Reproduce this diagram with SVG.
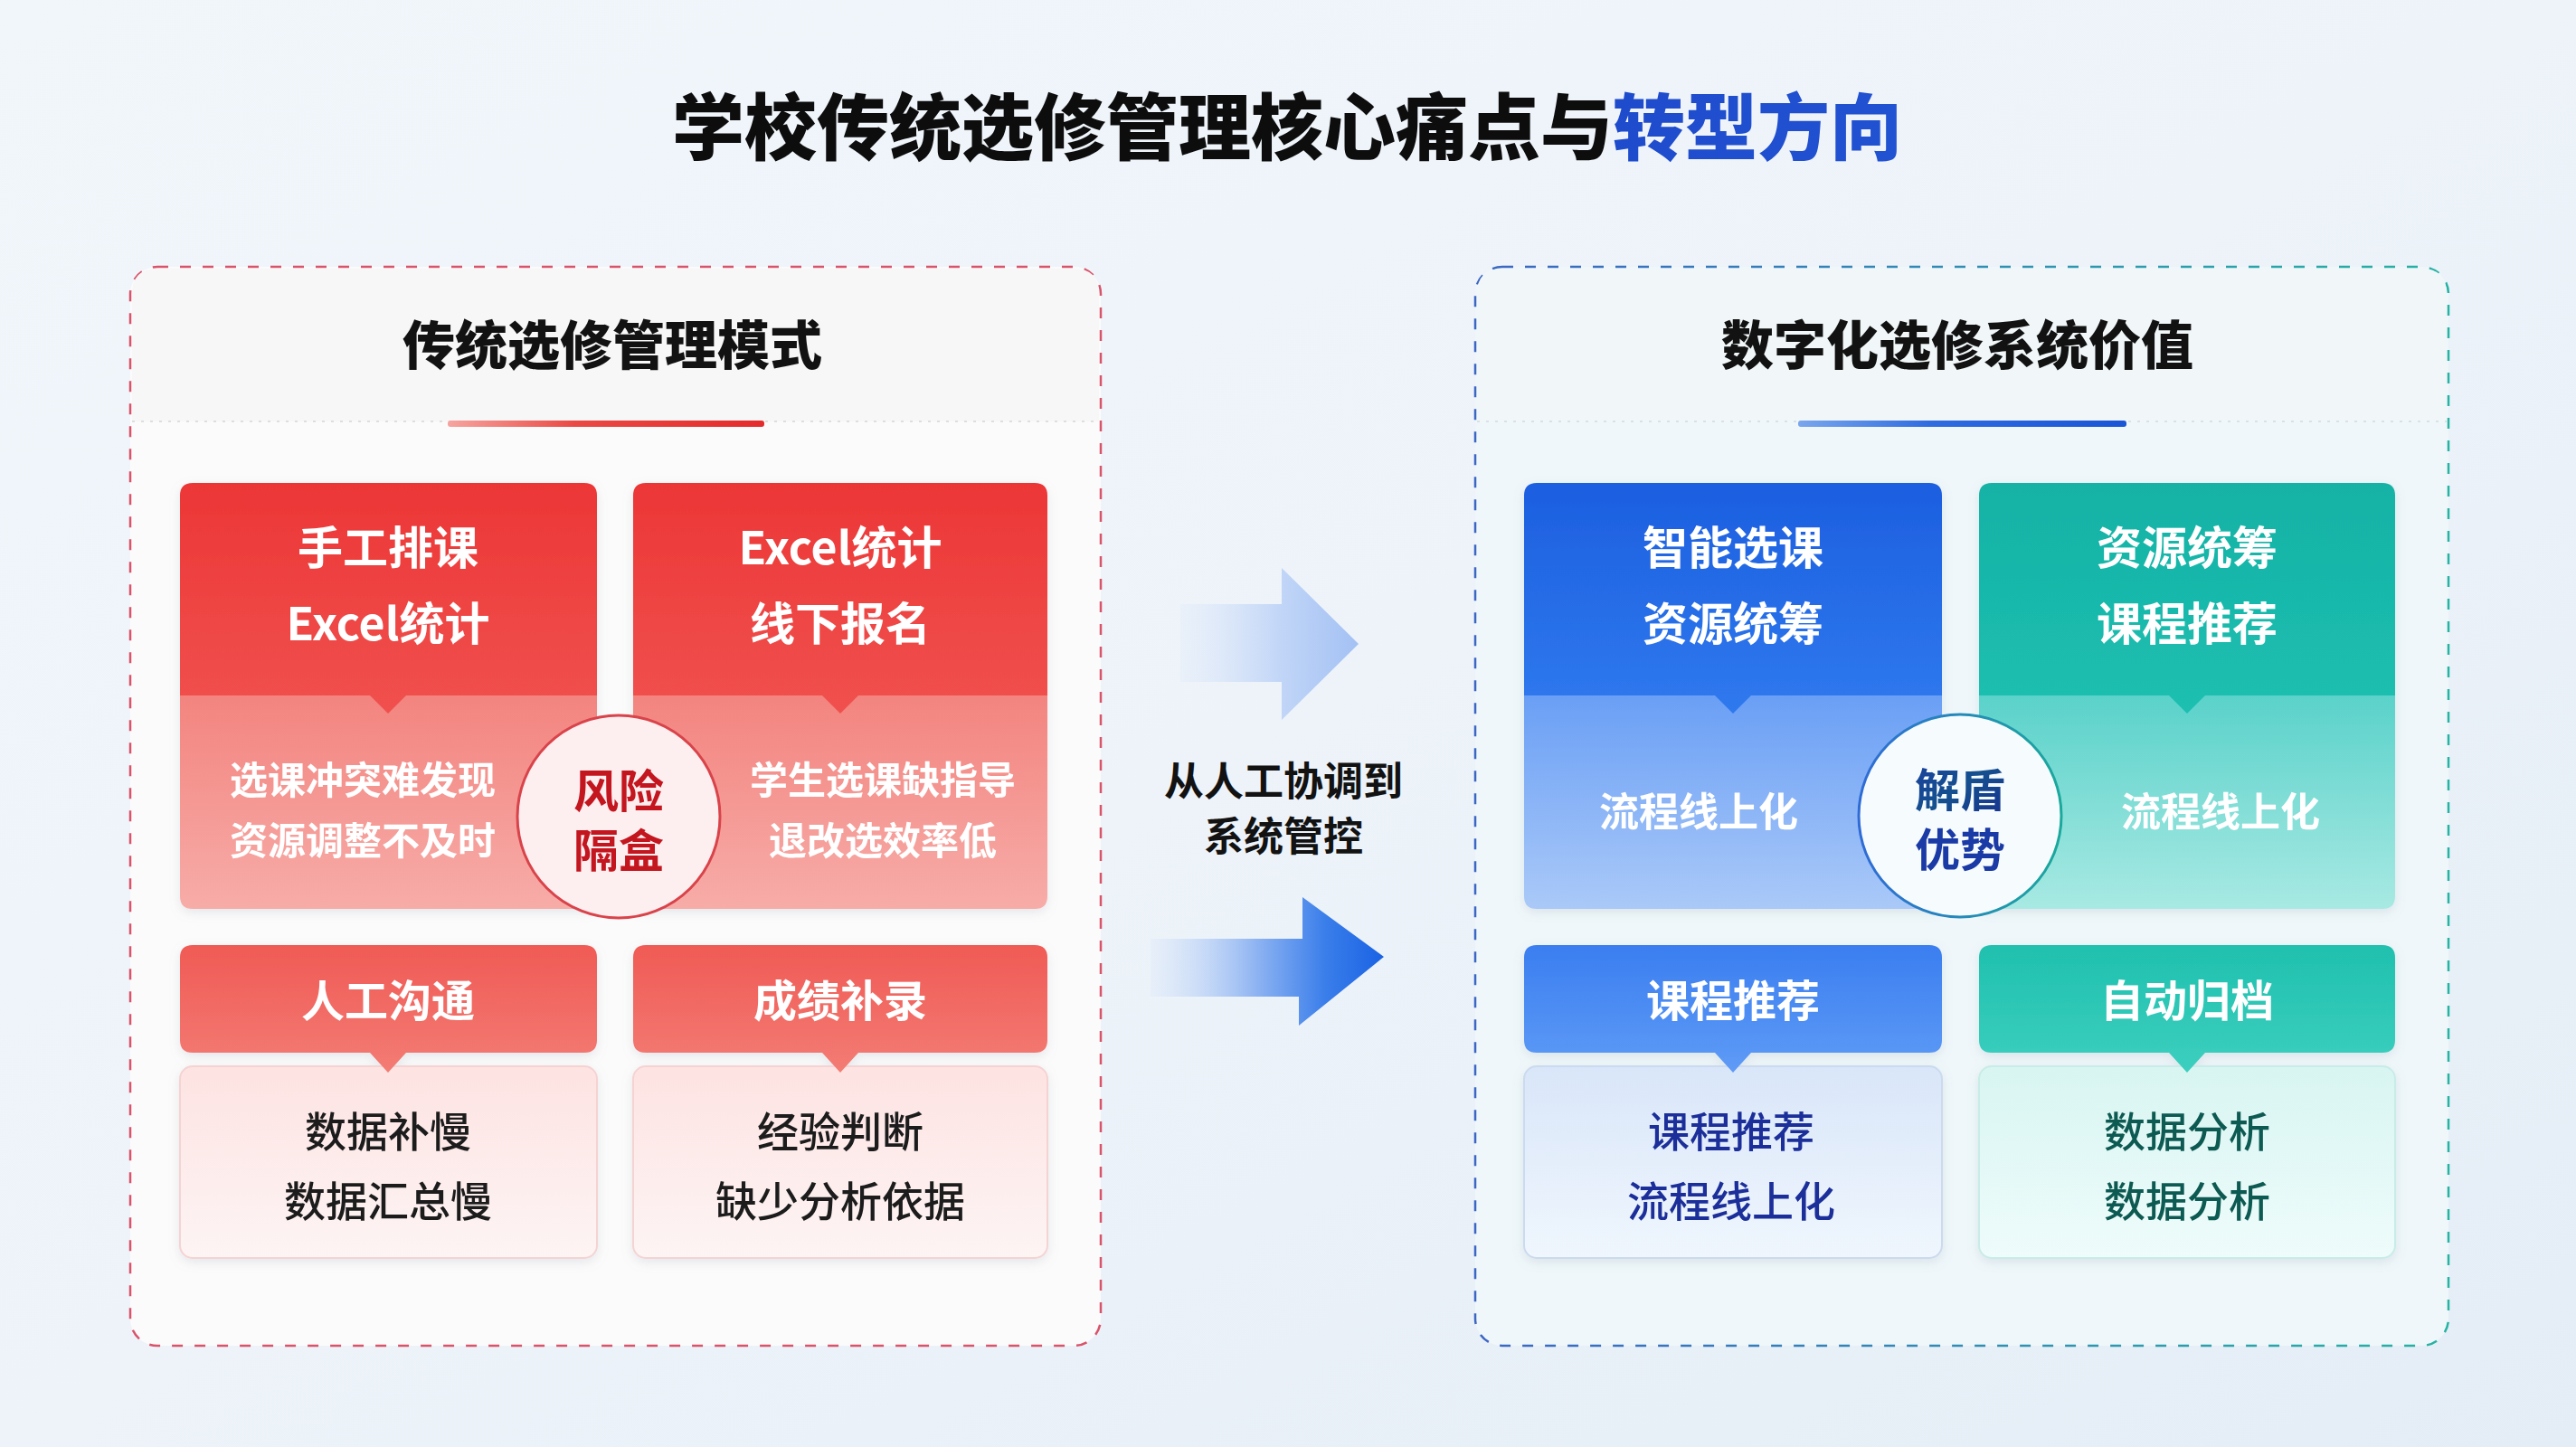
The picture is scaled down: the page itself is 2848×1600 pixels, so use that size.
<svg xmlns="http://www.w3.org/2000/svg" width="2848" height="1600" viewBox="0 0 2848 1600">
<defs>
<style>
.cjk{font-family:"Noto Sans CJK SC","Noto Sans",sans-serif;}
.b{font-weight:700;}
.k{font-weight:900;}
.m{font-weight:500;}
.wt{fill:#ffffff;}
</style>
<linearGradient id="bg" x1="0" y1="0" x2="1" y2="1">
<stop offset="0" stop-color="#f1f6fb"/><stop offset="0.5" stop-color="#edf3f9"/><stop offset="1" stop-color="#e4edf6"/>
</linearGradient>
<linearGradient id="titleBlue" x1="0" y1="0" x2="1" y2="0">
<stop offset="0" stop-color="#1636b8"/><stop offset="1" stop-color="#2152d2"/>
</linearGradient>
<linearGradient id="redHead" x1="0" y1="0" x2="0" y2="1">
<stop offset="0" stop-color="#ec3636"/><stop offset="1" stop-color="#f0514e"/>
</linearGradient>
<linearGradient id="redLow" x1="0" y1="0" x2="0" y2="1">
<stop offset="0" stop-color="#f3847f"/><stop offset="1" stop-color="#f7aca8"/>
</linearGradient>
<linearGradient id="redHead2" x1="0" y1="0" x2="0" y2="1">
<stop offset="0" stop-color="#f05a55"/><stop offset="1" stop-color="#f37c74"/>
</linearGradient>
<linearGradient id="redBox" x1="0" y1="0" x2="0" y2="1">
<stop offset="0" stop-color="#fde3e2"/><stop offset="1" stop-color="#fdf4f4"/>
</linearGradient>
<linearGradient id="blueHead" x1="0" y1="0" x2="0" y2="1">
<stop offset="0" stop-color="#1c5fe0"/><stop offset="1" stop-color="#2f79ee"/>
</linearGradient>
<linearGradient id="blueLow" x1="0" y1="0" x2="0" y2="1">
<stop offset="0" stop-color="#6a9ff5"/><stop offset="1" stop-color="#aac9f8"/>
</linearGradient>
<linearGradient id="blueHead2" x1="0" y1="0" x2="0" y2="1">
<stop offset="0" stop-color="#3a7ef0"/><stop offset="1" stop-color="#5f9bf6"/>
</linearGradient>
<linearGradient id="blueBox" x1="0" y1="0" x2="0" y2="1">
<stop offset="0" stop-color="#d9e6f9"/><stop offset="1" stop-color="#eff6fd"/>
</linearGradient>
<linearGradient id="tealHead" x1="0" y1="0" x2="0" y2="1">
<stop offset="0" stop-color="#13b2a6"/><stop offset="1" stop-color="#1ebfb0"/>
</linearGradient>
<linearGradient id="tealLow" x1="0" y1="0" x2="0" y2="1">
<stop offset="0" stop-color="#5ad2ca"/><stop offset="1" stop-color="#a8e9e3"/>
</linearGradient>
<linearGradient id="tealHead2" x1="0" y1="0" x2="0" y2="1">
<stop offset="0" stop-color="#20c0ae"/><stop offset="1" stop-color="#3ccfbf"/>
</linearGradient>
<linearGradient id="tealBox" x1="0" y1="0" x2="0" y2="1">
<stop offset="0" stop-color="#d8f5f2"/><stop offset="1" stop-color="#eefcfb"/>
</linearGradient>
<linearGradient id="redBar" x1="0" y1="0" x2="1" y2="0">
<stop offset="0" stop-color="#f6a4a0"/><stop offset="0.4" stop-color="#ea4a44"/><stop offset="1" stop-color="#e42b2b"/>
</linearGradient>
<linearGradient id="blueBar" x1="0" y1="0" x2="1" y2="0">
<stop offset="0" stop-color="#7aa6ec"/><stop offset="0.4" stop-color="#2f6ce0"/><stop offset="1" stop-color="#1a55d6"/>
</linearGradient>
<linearGradient id="rightStroke" x1="0" y1="0" x2="1" y2="0">
<stop offset="0" stop-color="#3b66c4"/><stop offset="1" stop-color="#25b3a3"/>
</linearGradient>
<linearGradient id="circBlue" x1="0" y1="0" x2="1" y2="0">
<stop offset="0" stop-color="#2f6bd6"/><stop offset="1" stop-color="#1aa99c"/>
</linearGradient>
<linearGradient id="circText" x1="0" y1="0" x2="1" y2="1">
<stop offset="0" stop-color="#1b3f9f"/><stop offset="0.5" stop-color="#15508f"/><stop offset="1" stop-color="#17328f"/>
</linearGradient>
<linearGradient id="arrowLight" x1="1305" y1="0" x2="1502" y2="0" gradientUnits="userSpaceOnUse">
<stop offset="0" stop-color="#dfe9fa" stop-opacity="0.3"/><stop offset="0.55" stop-color="#c2d6f7"/><stop offset="1" stop-color="#a3c1f4"/>
</linearGradient>
<linearGradient id="arrowDark" x1="1272" y1="0" x2="1530" y2="0" gradientUnits="userSpaceOnUse">
<stop offset="0" stop-color="#d9e6fa" stop-opacity="0.3"/><stop offset="0.45" stop-color="#8fb4f2"/><stop offset="0.75" stop-color="#3a7eea"/><stop offset="1" stop-color="#1a62e4"/>
</linearGradient>
<filter id="sh" x="-10%" y="-10%" width="120%" height="130%">
<feDropShadow dx="0" dy="4" stdDeviation="6" flood-color="#7a8aa0" flood-opacity="0.18"/>
</filter>
</defs>

<rect x="0" y="0" width="2848" height="1600" fill="url(#bg)"/>

<g id="title">
<text class="cjk k" x="1423" y="170" font-size="80" text-anchor="middle" fill="#0d0d0d">学校传统选修管理核心痛点与<tspan fill="url(#titleBlue)">转型方向</tspan></text>
</g>

<g id="panel-left">
<rect x="144" y="295" width="1073" height="1193" rx="30" fill="#fcfbfb" stroke="#d9536a" stroke-width="2.5" stroke-dasharray="12 13"/>
<path d="M146,466 V325 Q146,297 174,297 H1187 Q1215,297 1215,325 V466 Z" fill="#f7f7f8"/>
<line x1="146" y1="466" x2="1215" y2="466" stroke="#dedede" stroke-width="2" stroke-dasharray="3 7"/>
<text class="cjk k" x="677" y="403" font-size="58" text-anchor="middle" fill="#121212">传统选修管理模式</text>
<rect x="495" y="465" width="350" height="7" rx="3" fill="url(#redBar)"/>
</g>

<g id="panel-right">
<rect x="1631" y="295" width="1076" height="1193" rx="30" fill="#eff7fa" stroke="url(#rightStroke)" stroke-width="2.5" stroke-dasharray="12 13"/>
<path d="M1633,466 V325 Q1633,297 1661,297 H2677 Q2705,297 2705,325 V466 Z" fill="#f1f7f9"/>
<line x1="1633" y1="466" x2="2705" y2="466" stroke="#d8e2e6" stroke-width="2" stroke-dasharray="3 7"/>
<text class="cjk k" x="2164" y="403" font-size="58" text-anchor="middle" fill="#121212">数字化选修系统价值</text>
<rect x="1988" y="465" width="363" height="7" rx="3" fill="url(#blueBar)"/>
</g>

<g id="card-manual" filter="url(#sh)">
<path d="M199,769 H660 V991 Q660,1005 646,1005 H213 Q199,1005 199,991 Z" fill="url(#redLow)"/>
<path d="M199,769 V548 Q199,534 213,534 H646 Q660,534 660,548 V769 H449 L429,789 L409,769 Z" fill="url(#redHead)"/>
<text class="cjk b wt" x="429" y="624" font-size="50" text-anchor="middle">手工排课</text>
<text class="cjk b wt" x="429" y="708" font-size="50" text-anchor="middle">Excel统计</text>
<text class="cjk b wt" x="401" y="878" font-size="42" text-anchor="middle">选课冲突难发现</text>
<text class="cjk b wt" x="401" y="945" font-size="42" text-anchor="middle">资源调整不及时</text>
</g>
<g id="card-excel" filter="url(#sh)">
<path d="M700,769 H1158 V991 Q1158,1005 1144,1005 H714 Q700,1005 700,991 Z" fill="url(#redLow)"/>
<path d="M700,769 V548 Q700,534 714,534 H1144 Q1158,534 1158,548 V769 H949 L929,789 L909,769 Z" fill="url(#redHead)"/>
<text class="cjk b wt" x="929" y="624" font-size="50" text-anchor="middle">Excel统计</text>
<text class="cjk b wt" x="929" y="708" font-size="50" text-anchor="middle">线下报名</text>
<text class="cjk b wt" x="976" y="878" font-size="42" text-anchor="middle">学生选课缺指导</text>
<text class="cjk b wt" x="976" y="945" font-size="42" text-anchor="middle">退改选效率低</text>
</g>
<g id="circle-risk">
<circle cx="684" cy="903" r="112" fill="#fdeef0" stroke="#d9434a" stroke-width="3"/>
<text class="cjk b" x="684" y="893" font-size="50" text-anchor="middle" fill="#c3161f">风险</text>
<text class="cjk b" x="684" y="959" font-size="50" text-anchor="middle" fill="#c3161f">隔盒</text>
</g>

<g id="card-communication" filter="url(#sh)">
<rect x="199" y="1179" width="461" height="212" rx="14" fill="url(#redBox)" stroke="#f5d3d3" stroke-width="2"/>
<path d="M213,1045 H646 Q660,1045 660,1059 V1150 Q660,1164 646,1164 H449 L429,1186 L409,1164 H213 Q199,1164 199,1150 V1059 Q199,1045 213,1045 Z" fill="url(#redHead2)"/>
<text class="cjk b wt" x="429" y="1124" font-size="48" text-anchor="middle">人工沟通</text>
<text class="cjk m" x="429" y="1268" font-size="46" text-anchor="middle" fill="#1a1a1a">数据补慢</text>
<text class="cjk m" x="429" y="1345" font-size="46" text-anchor="middle" fill="#1a1a1a">数据汇总慢</text>
</g>
<g id="card-grades" filter="url(#sh)">
<rect x="700" y="1179" width="458" height="212" rx="14" fill="url(#redBox)" stroke="#f5d3d3" stroke-width="2"/>
<path d="M714,1045 H1144 Q1158,1045 1158,1059 V1150 Q1158,1164 1144,1164 H949 L929,1186 L909,1164 H714 Q700,1164 700,1150 V1059 Q700,1045 714,1045 Z" fill="url(#redHead2)"/>
<text class="cjk b wt" x="929" y="1124" font-size="48" text-anchor="middle">成绩补录</text>
<text class="cjk m" x="929" y="1268" font-size="46" text-anchor="middle" fill="#1a1a1a">经验判断</text>
<text class="cjk m" x="929" y="1345" font-size="46" text-anchor="middle" fill="#1a1a1a">缺少分析依据</text>
</g>

<g id="card-smart" filter="url(#sh)">
<path d="M1685,769 H2147 V991 Q2147,1005 2133,1005 H1699 Q1685,1005 1685,991 Z" fill="url(#blueLow)"/>
<path d="M1685,769 V548 Q1685,534 1699,534 H2133 Q2147,534 2147,548 V769 H1936 L1916,789 L1896,769 Z" fill="url(#blueHead)"/>
<text class="cjk b wt" x="1916" y="624" font-size="50" text-anchor="middle">智能选课</text>
<text class="cjk b wt" x="1916" y="708" font-size="50" text-anchor="middle">资源统筹</text>
<text class="cjk b wt" x="1878" y="914" font-size="44" text-anchor="middle">流程线上化</text>
</g>
<g id="card-resource" filter="url(#sh)">
<path d="M2188,769 H2648 V991 Q2648,1005 2634,1005 H2202 Q2188,1005 2188,991 Z" fill="url(#tealLow)"/>
<path d="M2188,769 V548 Q2188,534 2202,534 H2634 Q2648,534 2648,548 V769 H2438 L2418,789 L2398,769 Z" fill="url(#tealHead)"/>
<text class="cjk b wt" x="2418" y="624" font-size="50" text-anchor="middle">资源统筹</text>
<text class="cjk b wt" x="2418" y="708" font-size="50" text-anchor="middle">课程推荐</text>
<text class="cjk b wt" x="2455" y="914" font-size="44" text-anchor="middle">流程线上化</text>
</g>
<g id="circle-advantage">
<circle cx="2167" cy="902" r="112" fill="#f6fbfd" stroke="url(#circBlue)" stroke-width="3"/>
<text class="cjk b" x="2167" y="892" font-size="50" text-anchor="middle" fill="url(#circText)">解盾</text>
<text class="cjk b" x="2167" y="958" font-size="50" text-anchor="middle" fill="#1a3aa6">优势</text>
</g>

<g id="card-recommend" filter="url(#sh)">
<rect x="1685" y="1179" width="462" height="212" rx="14" fill="url(#blueBox)" stroke="#cbdaee" stroke-width="2"/>
<path d="M1699,1045 H2133 Q2147,1045 2147,1059 V1150 Q2147,1164 2133,1164 H1936 L1916,1186 L1896,1164 H1699 Q1685,1164 1685,1150 V1059 Q1685,1045 1699,1045 Z" fill="url(#blueHead2)"/>
<text class="cjk b wt" x="1916" y="1124" font-size="48" text-anchor="middle">课程推荐</text>
<text class="cjk m" x="1914" y="1268" font-size="46" text-anchor="middle" fill="#1b2f9a">课程推荐</text>
<text class="cjk m" x="1914" y="1345" font-size="46" text-anchor="middle" fill="#1b2f9a">流程线上化</text>
</g>
<g id="card-archive" filter="url(#sh)">
<rect x="2188" y="1179" width="460" height="212" rx="14" fill="url(#tealBox)" stroke="#c8ece8" stroke-width="2"/>
<path d="M2202,1045 H2634 Q2648,1045 2648,1059 V1150 Q2648,1164 2634,1164 H2438 L2418,1186 L2398,1164 H2202 Q2188,1164 2188,1150 V1059 Q2188,1045 2202,1045 Z" fill="url(#tealHead2)"/>
<text class="cjk b wt" x="2418" y="1124" font-size="48" text-anchor="middle">自动归档</text>
<text class="cjk m" x="2418" y="1268" font-size="46" text-anchor="middle" fill="#0f5a52">数据分析</text>
<text class="cjk m" x="2418" y="1345" font-size="46" text-anchor="middle" fill="#0f5a52">数据分析</text>
</g>

<g id="connectors">
<path d="M1305,668 H1417 V628 L1502,712 L1417,796 V754 H1305 Z" fill="url(#arrowLight)"/>
<path d="M1272,1038 H1440 V992 L1530,1058 L1436,1134 V1102 H1272 Z" fill="url(#arrowDark)"/>
<text class="cjk b" x="1419" y="880" font-size="44" text-anchor="middle" fill="#121212">从人工协调到</text>
<text class="cjk b" x="1419" y="941" font-size="44" text-anchor="middle" fill="#121212">系统管控</text>
</g>
</svg>
